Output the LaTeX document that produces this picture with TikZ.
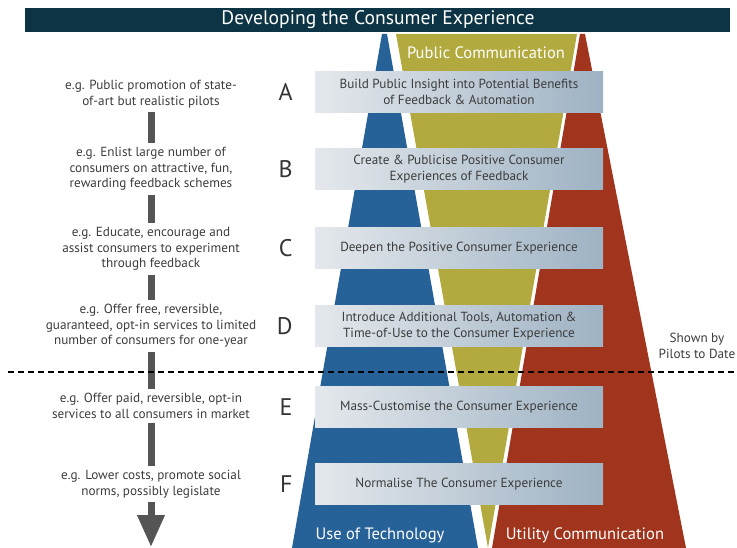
\documentclass[tikz,border=0pt]{standalone}
\usepackage{fontspec}
\setmainfont{PT Sans}
\usepackage{tikz}
\usetikzlibrary{positioning,arrows.meta}

\definecolor{titlebg}{RGB}{12,52,68}
\definecolor{techblue}{RGB}{38,98,152}
\definecolor{pubolive}{RGB}{178,170,62}
\definecolor{utilrust}{RGB}{160,52,28}
\definecolor{boxleft}{RGB}{228,232,236}
\definecolor{boxright}{RGB}{158,178,195}
\definecolor{txtgrey}{RGB}{60,60,60}
\definecolor{bargrey}{RGB}{85,85,85}

\begin{document}
\begin{tikzpicture}[x=1pt,y=-1pt,node distance=22pt]
    \tikzset{stage/.style={rectangle,minimum width=288pt,minimum height=41pt,
        left color=boxleft,right color=boxright,text=txtgrey,align=center,
        font=\fontsize{13.2}{15.5}\selectfont,inner sep=0pt},
      letter/.style={text=black!80,font=\fontsize{24}{24}\selectfont,inner sep=0pt},
      example/.style={text=txtgrey,align=center,font=\fontsize{13.2}{15.5}\selectfont,inner sep=4pt},
      bar/.style={draw=bargrey,line width=7pt},
      band/.style={text=white,font=\fontsize{16.5}{18}\selectfont}}
    \useasboundingbox (0,0) rectangle (737,548);
    % title
    \fill[titlebg] (25,8) rectangle (730,32);
    \node[text=white,font=\fontsize{19.6}{21}\selectfont] (title) at (378,20) {Developing the Consumer Experience};
    % the three wedges
    \fill[techblue] (382,34) -- (387,34) -- (478,548) -- (292,548) -- cycle;
    \fill[utilrust] (580,34) -- (585,34) -- (686,548) -- (492,548) -- cycle;
    \fill[pubolive] (396,34) -- (577,34) -- (488,548) -- cycle;
    \node[band] (pub) at (486,53) {Public Communication};
    \node[band] (tech) at (380,535) {Use of Technology};
    \node[band] (util) at (585,535) {Utility Communication};
    % stages
    \node[stage] (bA) at (459,92) {Build Public Insight into Potential Benefits\\of Feedback \& Automation};
    \node[stage] (bB) at (459,169) {Create \& Publicise Positive Consumer\\Experiences of Feedback};
    \node[stage] (bC) at (459,248) {Deepen the Positive Consumer Experience};
    \node[stage] (bD) at (459,326) {Introduce Additional Tools, Automation \&\\Time-of-Use to the Consumer Experience};
    \node[stage] (bE) at (459,407) {Mass-Customise the Consumer Experience};
    \node[stage] (bF) at (459,484) {Normalise The Consumer Experience};
    \node[letter] (lA) [left = of bA] {A};
    \node[letter] (lB) [left = of bB] {B};
    \node[letter] (lC) [left = of bC] {C};
    \node[letter] (lD) [left = of bD] {D};
    \node[letter] (lE) [left = of bE] {E};
    \node[letter] (lF) [left = of bF] {F};
    % examples
    \node[example] (eA) at (151,94) {e.g. Public promotion of state-\\of-art but realistic pilots};
    \node[example] (eB) at (151,169) {e.g. Enlist large number of\\consumers on attractive, fun,\\rewarding feedback schemes};
    \node[example] (eC) at (151,249) {e.g. Educate, encourage and\\assist consumers to experiment\\through feedback};
    \node[example] (eD) at (151,326) {e.g. Offer free, reversible,\\guaranteed, opt-in services to limited\\number of consumers for one-year};
    \node[example] (eE) at (151,406) {e.g. Offer paid, reversible, opt-in\\services to all consumers in market};
    \node[example] (eF) at (151,484) {e.g. Lower costs, promote social\\norms, possibly legislate};
    \coordinate (tip) at (151,547);
    \draw[bar] (eA) -- (eB);
    \draw[bar] (eB) -- (eC);
    \draw[bar] (eC) -- (eD);
    \draw[bar] (eD) -- (eE);
    \draw[bar] (eE) -- (eF);
    \draw[bar,-{Triangle[width=26pt,length=32pt]}] (eF) -- (tip);
    % pilots line
    \coordinate (dl) at (8,372);
    \coordinate (dr) at (737,372);
    \draw[line width=2.5pt,dash pattern=on 6pt off 4pt] (dl) -- (dr);
    \node[example,inner sep=0pt] (pilots) at (697,346) {Shown by\\Pilots to Date};
\end{tikzpicture}
\end{document}
